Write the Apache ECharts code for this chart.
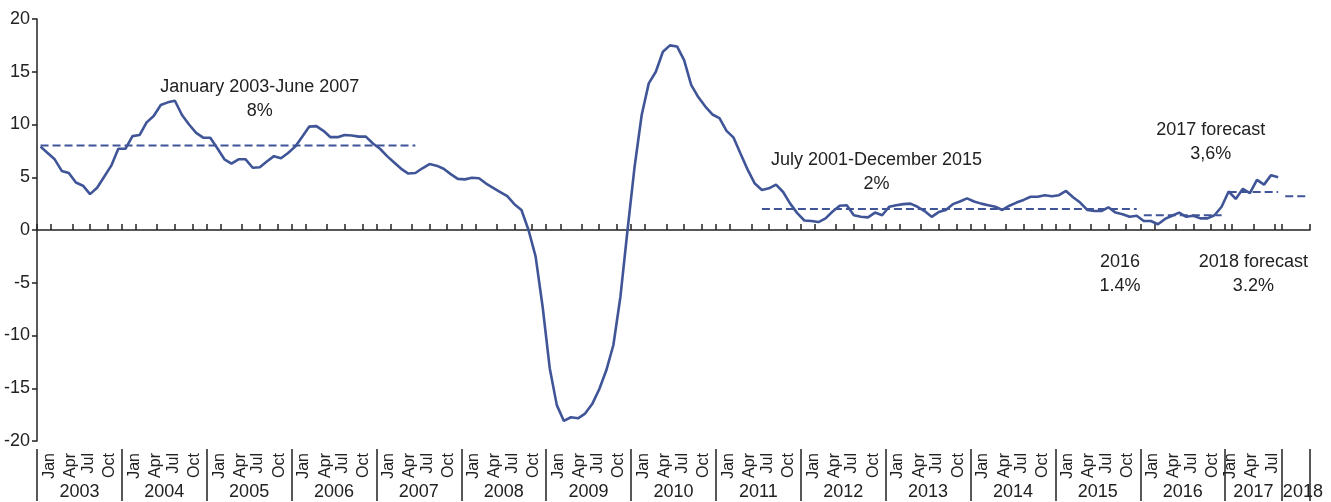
<!DOCTYPE html>
<html>
<head>
<meta charset="utf-8">
<script src="https://cdn.jsdelivr.net/npm/echarts@6/dist/echarts.min.js"></script>
<style>
  html, body { margin: 0; padding: 0; background: #fff; }
  #chart { width: 1331px; height: 502px; }
</style>
</head>
<body>
<div id="chart"></div>
<script>
// x axis: years and how many monthly slots each gets (2017 ends in Aug, 2018 is the forecast block)
const years = ['2003', '2004', '2005', '2006', '2007', '2008', '2009', '2010',
  '2011', '2012', '2013', '2014', '2015', '2016', '2017', '2018'];
const monthsPerYear = [12, 12, 12, 12, 12, 12, 12, 12, 12, 12, 12, 12, 12, 12, 8, 4];
const shownMonths = ['Jan', 'Apr', 'Jul', 'Oct'];

// monthly % change, Jan 2003 .. Aug 2017
const growth = [
  7.9, 7.3, 6.7, 5.6, 5.4, 4.5, 4.2, 3.4, 4.0, 5.05, 6.1, 7.7,
  7.7, 8.9, 9.0, 10.2, 10.8, 11.85, 12.1, 12.25, 10.9, 10.0, 9.2, 8.75,
  8.75, 7.75, 6.7, 6.3, 6.7, 6.7, 5.9, 5.95, 6.5, 7.0, 6.8, 7.3,
  7.9, 8.85, 9.8, 9.85, 9.4, 8.8, 8.8, 9.0, 8.95, 8.85, 8.85, 8.2,
  7.7, 7.0, 6.4, 5.8, 5.35, 5.4, 5.85, 6.25, 6.1, 5.8, 5.3, 4.85,
  4.8, 4.95, 4.9, 4.4, 4.0, 3.6, 3.2, 2.45, 1.9, 0.0, -2.5, -7.3,
  -13.1, -16.6, -18.1, -17.75, -17.85, -17.4, -16.5, -15.1, -13.3, -10.9, -6.3, 0.0,
  6.0, 10.9, 13.9, 15.0, 16.9, 17.5, 17.4, 16.1, 13.75, 12.6, 11.7, 10.95,
  10.6, 9.4, 8.75, 7.2, 5.7, 4.4, 3.8, 3.95, 4.3, 3.6, 2.5, 1.6,
  0.9, 0.85, 0.75, 1.1, 1.75, 2.3, 2.35, 1.4, 1.25, 1.2, 1.65, 1.4,
  2.2, 2.35, 2.45, 2.5, 2.2, 1.8, 1.25, 1.7, 1.9, 2.45, 2.7, 3.0,
  2.7, 2.5, 2.35, 2.2, 1.9, 2.3, 2.6, 2.85, 3.15, 3.15, 3.3, 3.2,
  3.3, 3.7, 3.1, 2.6, 1.9, 1.8, 1.8, 2.15, 1.65, 1.5, 1.25, 1.35,
  0.85, 0.85, 0.55, 1.05, 1.35, 1.65, 1.25, 1.35, 1.1, 1.1, 1.4, 2.2,
  3.65, 2.95, 3.9, 3.5, 4.75, 4.3, 5.2, 5.0
];

// period averages / forecasts drawn as dashed lines: [from, to, value]
const averages = [
  ['2003-01', '2007-06', 8],
  ['2011-07', '2015-12', 2],
  ['2016-01', '2016-12', 1.4],
  ['2017-01', '2017-08', 3.6],
  ['2018-01', '2018-04', 3.2]
];

const yTicks = { min: -20, max: 20, step: 5 };

const FONT = "'Liberation Sans', Arial, sans-serif";
const BLUE = '#3f5597';
const INK = '#222';

const pad = n => (n < 10 ? '0' : '') + n;

// monthly slots, plus a half-month helper axis for the month ticks/labels
let months = [];
let halfSlots = [];
let halfLabel = {};   // half-slot name -> month label
let halfTick = {};
let yearStart = {};
let yearMid = {};
years.forEach((y, yi) => {
  const n = monthsPerYear[yi];
  const k0 = halfSlots.length;
  yearStart[months.length] = true;
  // the short 2018 block gets its label pushed right of the divider, like the original
  yearMid[months.length + (n > 4 ? n / 2 - 1 : n / 2)] = y;
  for (let m = 1; m <= n; m++) {
    months.push(y + '-' + pad(m));
    halfSlots.push(y + '-' + pad(m) + 'a', y + '-' + pad(m) + 'b');
  }
  const labelAt = n === 12 ? [3, 9, 14, 20] : n === 8 ? [1, 7, 13] : [];
  const tickAt = n === 12 ? [0, 4, 10, 15, 20] : n === 8 ? [0, 2, 8, 14] : [0];
  labelAt.forEach((k, j) => { halfLabel[halfSlots[k0 + k]] = shownMonths[j]; });
  tickAt.forEach(k => { halfTick[k0 + k] = true; });
});

const avgSeries = averages.map(([from, to, v]) => {
  const a = months.indexOf(from), b = months.indexOf(to);
  return months.map((_, i) => (i >= a && i <= b ? v : null));
});

function note(text, at, y, dx) {
  return {
    coord: [at, y],
    label: { offset: [dx || 0, 0], formatter: text }
  };
}

const chart = echarts.init(document.getElementById('chart'));
chart.setOption({
  animation: false,
  textStyle: { fontFamily: FONT },
  grid: { left: 37, right: 21, top: 19, bottom: 61, containLabel: false, outerBoundsMode: 'none' },
  xAxis: [
    {
      type: 'category',
      data: months,
      boundaryGap: true,
      axisLine: { onZero: true, lineStyle: { color: INK, width: 1.5 } },
      axisTick: { show: false },
      axisLabel: { show: false },
      splitLine: { show: false }
    },
    {
      type: 'category',
      data: halfSlots,
      boundaryGap: true,
      axisLine: { show: false, onZero: true, onZeroAxisIndex: 0 },
      axisTick: {
        show: true,
        length: 6,
        interval: idx => !!halfTick[idx],
        lineStyle: { color: INK, width: 1.5 }
      },
      axisLabel: { show: false },
      splitLine: { show: false }
    },
    {
      // month names under the plot
      type: 'category',
      data: halfSlots,
      boundaryGap: true,
      position: 'bottom',
      offset: 0,
      axisLine: { show: false, onZero: false },
      axisTick: { show: false },
      axisLabel: {
        interval: (idx, name) => name in halfLabel,
        formatter: name => halfLabel[name] || '',
        rotate: 90,
        margin: 12,
        fontSize: 16,
        color: INK,
        fontFamily: FONT
      },
      splitLine: { show: false }
    },
    {
      type: 'category',
      data: months,
      boundaryGap: true,
      position: 'bottom',
      offset: 8,
      axisLine: { show: false, onZero: false },
      axisTick: {
        show: true,
        length: 52,
        interval: idx => !!yearStart[idx],
        lineStyle: { color: INK, width: 1.5 }
      },
      axisLabel: {
        interval: idx => idx in yearMid,
        formatter: v => v.slice(0, 4),
        padding: [0, 0, 0, 7],
        margin: 34,
        fontSize: 18,
        color: INK,
        fontFamily: FONT
      },
      splitLine: { show: false }
    }
  ],
  yAxis: {
    type: 'value',
    min: yTicks.min,
    max: yTicks.max,
    interval: yTicks.step,
    axisLine: { show: true, lineStyle: { color: INK, width: 1.5 } },
    axisTick: { show: true, length: 5, lineStyle: { color: INK, width: 1.5 } },
    axisLabel: { margin: 7, fontSize: 18, color: INK, fontFamily: FONT },
    splitLine: { show: false }
  },
  series: [
    {
      type: 'line',
      data: growth,
      symbol: 'none',
      lineStyle: { color: BLUE, width: 2.6 },
      z: 3,
      markPoint: {
        symbol: 'circle',
        symbolSize: 1,
        itemStyle: { color: 'rgba(0,0,0,0)' },
        label: {
          show: true,
          position: 'inside',
          color: INK,
          fontSize: 18,
          lineHeight: 24,
          align: 'center',
          verticalAlign: 'middle',
          fontFamily: FONT
        },
        data: [
          note('January 2003-June 2007\n8%', '2005-08', 12.4),
          note('July 2001-December 2015\n2%', '2012-11', 5.5, 1.5),
          note('2017 forecast\n3,6%', '2016-10', 8.35, 3.3),
          note('2016\n1.4%', '2015-10', -4.17, -2.5),
          note('2018 forecast\n3.2%', '2017-04', -4.17, 3.5)
        ]
      }
    }
  ].concat(avgSeries.map(d => ({
    type: 'line',
    data: d,
    symbol: 'none',
    z: 2,
    lineStyle: { color: BLUE, width: 2, type: [8, 4] }
  })))
});
</script>
</body>
</html>
